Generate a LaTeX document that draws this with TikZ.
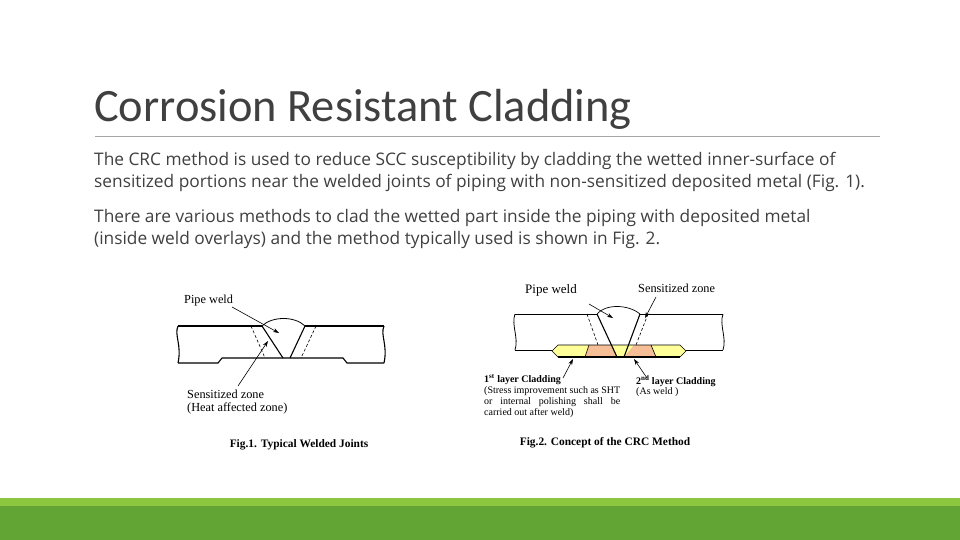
\documentclass[tikz,border=0pt]{standalone}
\usepackage{fontspec}
\setmainfont{Open Sans}
\newfontfamily\titlefont{Carlito}
\newfontfamily\figfont{Liberation Serif}
\usetikzlibrary{arrows.meta}
\definecolor{txt}{HTML}{404040}
\definecolor{gA}{HTML}{8DC63F}
\definecolor{gB}{HTML}{63A534}
\definecolor{cyel}{HTML}{FFFF99}
\definecolor{cora}{HTML}{F6BE96}
\begin{document}
\begin{tikzpicture}[x=1pt,y=-1pt,
  body/.style={anchor=base west,inner sep=0,font=\fontsize{17.3}{20}\selectfont,text=txt},
  flab/.style={anchor=base west,inner sep=0,font=\figfont\fontsize{12.3}{14}\selectfont},
  slab/.style={anchor=base west,inner sep=0,font=\figfont\fontsize{10}{12}\selectfont},
  pipe/.style={line width=1.1pt},
  hz/.style={densely dashed,line width=0.6pt},
  arr/.style={-{Stealth[length=6pt,width=4pt]},line width=0.6pt}]
\useasboundingbox (0,0) rectangle (960,540);
\fill[white] (0,0) rectangle (960,540);
\fill[gB] (0,498) rectangle (960,540);
\fill[gA] (0,498) rectangle (960,506);
\node[anchor=base west,inner sep=0,font=\titlefont\fontsize{46.4}{52}\selectfont,text=txt] (title) at (94,122) {Corrosion Resistant Cladding};
\draw[gray!70,line width=0.8pt] (95,136) -- (880,136);
\node[body] (l1) at (94,165) {The CRC method is used to reduce SCC susceptibility by cladding the wetted inner-surface of};
\node[body] (l2) at (94,187) {sensitized portions near the welded joints of piping with non-sensitized deposited metal (Fig. 1).};
\node[body] (l3) at (94,222) {There are various methods to clad the wetted part inside the piping with deposited metal};
\node[body] (l4) at (94,244) {(inside weld overlays) and the method typically used is shown in Fig. 2.};
% ---- Fig 1
\draw[pipe] (178,326) -- (262,326) (305,326) -- (384,326);
\draw[pipe] (178,326) .. controls (174,335) and (182,345) .. (178,363);
\draw[pipe] (384,326) .. controls (380,335) and (388,345) .. (384,363);
\draw[pipe] (178,363) -- (218,363) -- (222,358) -- (343,358) -- (347,363) -- (384,363);
\draw[pipe] (262,326) -- (283,358) (305,326) -- (290,358);
\draw[line width=0.8pt] (262,326) .. controls (272,316) and (295,316) .. (305,326);
\draw[hz] (251,326) -- (265,358) (316,326) -- (301,358);
\node[flab] (pw1) at (184,303) {Pipe weld};
\coordinate (pw1t) at (279,333);
\draw[arr] (232,307) -- (pw1t);
\node[flab] (sz1) at (187,398) {Sensitized zone};
\node[flab] (hz1) at (187,411) {(Heat affected zone)};
\coordinate (sz1t) at (268,341);
\draw[arr] (238,386) -- (sz1t);
\node[anchor=base,inner sep=0,font=\figfont\bfseries\fontsize{11.4}{13}\selectfont] (c1) at (299,447) {Fig.1. Typical Welded Joints};
% ---- Fig 2
\fill[cyel] (552,351) -- (558,345) -- (680,345) -- (686,351) -- (680,357) -- (558,357) -- cycle;
\fill[cora] (589,345) -- (611,345) -- (617,357) -- (585,357) -- cycle;
\fill[cora] (634,345) -- (651,345) -- (656,357) -- (624,357) -- cycle;
\draw[line width=0.6pt] (552,351) -- (558,345) -- (680,345) -- (686,351) -- (680,357) -- (558,357) -- cycle;
\draw[line width=0.6pt] (589,345) -- (585,357) (651,345) -- (656,357);
\draw[line width=0.8pt] (515,314) -- (597,314) (640,314) -- (723,314);
\draw[line width=0.8pt] (515,314) .. controls (511,325) and (519,338) .. (515,350);
\draw[line width=0.8pt] (723,314) .. controls (719,325) and (727,338) .. (723,350);
\draw[line width=0.8pt] (515,350) -- (552,350) (686,350) -- (723,350);
\draw[line width=1.1pt] (558,357) -- (680,357);
\draw[line width=1.1pt] (597,314) -- (617,357) (640,314) -- (624,357);
\draw[line width=0.7pt] (597,314) .. controls (605,304) and (628,304) .. (640,314);
\draw[hz] (587,314) -- (598,345) (648,314) -- (636,345);
\node[anchor=base west,inner sep=0,font=\figfont\fontsize{13}{15}\selectfont] (pw2) at (525,293) {Pipe weld};
\coordinate (pw2t) at (613,318);
\draw[arr] (589,304) -- (pw2t);
\node[flab] (sz2) at (638,292) {Sensitized zone};
\coordinate (sz2t) at (645,318);
\draw[arr] (656,297) -- (sz2t);
\node[slab,font=\figfont\bfseries\fontsize{10}{12}\selectfont] (fl1) at (484,382) {1\textsuperscript{st} layer Cladding};
\node[slab] (fl2) at (484,393) {\makebox[136pt][s]{(Stress improvement such as SHT}};
\node[slab] (fl3) at (484,404) {\makebox[136pt][s]{or internal polishing shall be}};
\node[slab] (fl4) at (484,415) {carried out after weld)};
\coordinate (fl1t) at (573,359);
\draw[arr] (563,378) -- (fl1t);
\node[slab,font=\figfont\bfseries\fontsize{10}{12}\selectfont] (sl1) at (636,384) {2\textsuperscript{nd} layer Cladding};
\node[slab] (sl2) at (636,394) {(As weld )};
\coordinate (sl1t) at (634,359);
\draw[arr] (647,378) -- (sl1t);
\node[anchor=base,inner sep=0,font=\figfont\bfseries\fontsize{11.4}{13}\selectfont] (c2) at (605,445) {Fig.2. Concept of the CRC Method};
\end{tikzpicture}
\end{document}
